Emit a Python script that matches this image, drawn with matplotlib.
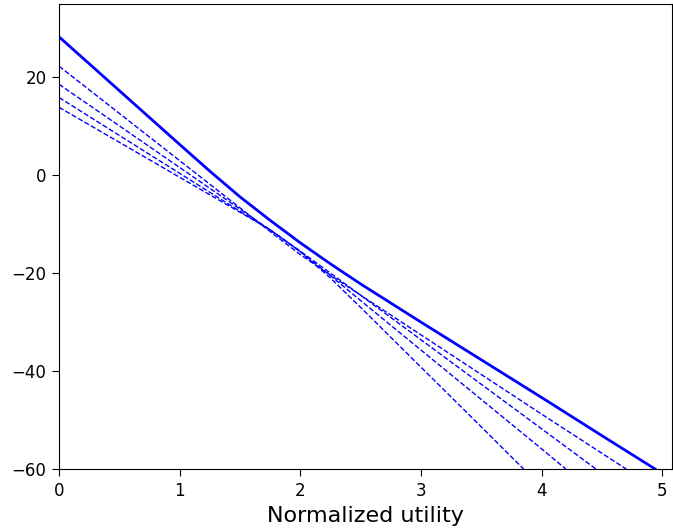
import numpy as np
import matplotlib
matplotlib.use('Agg')
import matplotlib.pyplot as plt

# values
x_solid = [0, 0.5, 1.0, 1.25, 1.5, 1.75, 2.0, 2.25, 2.5, 2.75, 3.0, 3.5, 4.0, 4.5, 4.94]
y_solid = [28.3, 17.3, 6.3, 0.85, -4.4, -9.2, -13.8, -18.1, -22.2, -26.1, -30.0, -37.7, -45.4, -53.2, -60.0]

x_d1 = [0, 0.5, 1.0, 1.5, 1.75, 2.0, 2.25, 2.5, 3.0, 3.5, 4.0, 4.5, 4.7]
y_d1 = [22.3, 12.65, 3.0, -6.65, -11.5, -16.2, -20.4, -24.5, -32.6, -40.7, -48.8, -56.8, -60.0]

x_d2 = [0, 0.5, 1.0, 1.5, 1.75, 2.0, 2.25, 2.5, 3.0, 3.5, 4.0, 4.45]
y_d2 = [18.6, 10.1, 1.6, -6.9, -11.15, -15.5, -20.0, -24.5, -33.6, -42.7, -51.8, -60.0]

x_d3 = [0, 0.5, 1.0, 1.5, 1.75, 2.0, 2.25, 2.5, 3.0, 3.5, 4.0, 4.2]
y_d3 = [15.9, 8.15, 0.4, -7.35, -11.2, -15.6, -20.5, -25.6, -35.7, -45.8, -55.9, -60.0]

x_d4 = [0, 0.5, 1.0, 1.5, 1.75, 2.0, 2.25, 2.5, 3.0, 3.5, 3.85]
y_d4 = [13.9, 6.75, -0.4, -7.55, -11.1, -15.6, -21.0, -27.0, -39.2, -51.4, -60.0]

dashed = [(x_d1, y_d1), (x_d2, y_d2), (x_d3, y_d3), (x_d4, y_d4)]

fig = plt.figure(figsize=(6.73, 5.31), dpi=100)
ax = fig.add_axes([59 / 673, 62 / 531, 613 / 673, 465 / 531])

ax.plot(x_solid, y_solid, color='b', linewidth=2)
for xd, yd in dashed:
    ax.plot(xd, yd, color='b', linestyle='--', linewidth=1)

ax.set_xlim(0, 5.08)
ax.set_ylim(-60, 35)
ax.set_xticks([0, 1, 2, 3, 4, 5])
ax.set_yticks([-60, -40, -20, 0, 20])
ax.tick_params(labelsize=12, length=5, pad=4)
ax.set_xlabel('Normalized utility', fontsize=16, labelpad=5)

fig.savefig('out.png', dpi=100)
